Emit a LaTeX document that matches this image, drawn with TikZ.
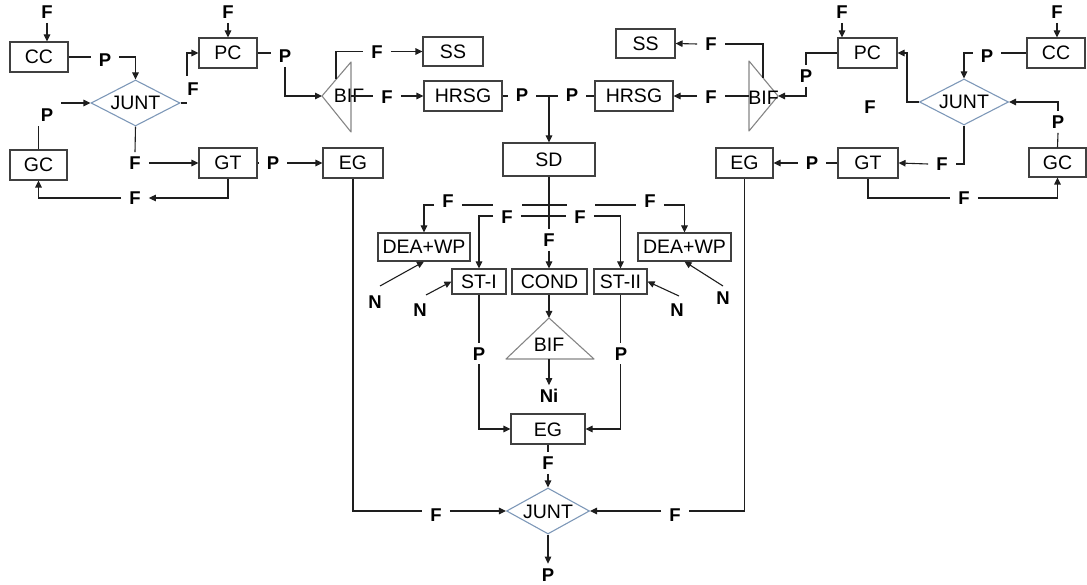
\documentclass[tikz,border=0pt]{standalone}
\usepackage{fontspec}
\setmainfont{Liberation Sans}
\usetikzlibrary{arrows.meta,shapes.geometric,calc}
\definecolor{boxc}{HTML}{404040}
\definecolor{linec}{HTML}{1E1E1E}
\definecolor{diac}{HTML}{7E98B8}
\definecolor{tric}{HTML}{858585}
\begin{document}
\begin{tikzpicture}[x=1pt,y=-1pt,
  box/.style={draw=boxc,line width=1.1pt,inner sep=0pt,text height=14pt,text depth=0pt,font=\fontsize{19.5}{20}\selectfont},
  junt/.style={shape=diamond,draw=diac,line width=1.1pt,inner sep=0pt,shape aspect=1.93,minimum width=89pt,minimum height=46pt,text height=14pt,text depth=0pt,font=\fontsize{19.5}{20}\selectfont},
  lbl/.style={inner xsep=8pt,inner ysep=4pt,text height=13.3pt,text depth=0pt,font=\fontsize{18.5}{19}\selectfont\bfseries},
  con/.style={draw=linec,line width=1.1pt},
  arr/.style={con,-{Triangle[length=7pt,width=6.5pt]}},
  tri/.style={draw=tric,line width=1.1pt,line join=round},
  txt/.style={inner sep=0pt,text height=14pt,text depth=0pt,font=\fontsize{19.5}{20}\selectfont}
]
\useasboundingbox (0,0) rectangle (1087,585);

% ---------- boxes ----------
\node[box,minimum width=58pt,minimum height=30pt] (CC1) at (39,57) {CC};
\node[box,minimum width=58pt,minimum height=30pt] (PC1) at (228,53) {PC};
\node[box,minimum width=57pt,minimum height=30pt] (GC1) at (38.5,165) {GC};
\node[box,minimum width=58pt,minimum height=30pt] (GT1) at (228,163) {GT};
\node[box,minimum width=60pt,minimum height=30pt] (EG1) at (353,163) {EG};
\node[box,minimum width=60pt,minimum height=29pt] (SS1) at (453,51.5) {SS};
\node[box,minimum width=78pt,minimum height=30pt] (HRSG1) at (463,96) {HRSG};
\node[box,minimum width=92pt,minimum height=33pt] (SD) at (549,159.5) {SD};
\node[box,minimum width=78pt,minimum height=30pt] (HRSG2) at (634,96) {HRSG};
\node[box,minimum width=59pt,minimum height=29pt] (SS2) at (645.5,43.5) {SS};
\node[box,minimum width=57pt,minimum height=30pt] (EG2) at (744.5,163) {EG};
\node[box,minimum width=60pt,minimum height=30pt] (GT2) at (868,163) {GT};
\node[box,minimum width=59pt,minimum height=30pt] (PC2) at (867.5,53) {PC};
\node[box,minimum width=58pt,minimum height=30pt] (CC2) at (1056,53) {CC};
\node[box,minimum width=57pt,minimum height=29pt] (GC2) at (1057.5,162.5) {GC};
\node[box,minimum width=92pt,minimum height=28pt] (DEA1) at (424,247) {DEA+WP};
\node[box,minimum width=93pt,minimum height=28pt] (DEA2) at (684.5,247) {DEA+WP};
\node[box,minimum width=54pt,minimum height=25pt] (ST1) at (479,281.5) {ST-I};
\node[box,minimum width=75pt,minimum height=25pt] (COND) at (549.5,281.5) {COND};
\node[box,minimum width=53pt,minimum height=25pt] (ST2) at (620.5,281.5) {ST-II};
\node[box,minimum width=74pt,minimum height=30pt] (EG3) at (548,429) {EG};

% ---------- junctions ----------
\node[junt] (JUNT1) at (135.5,103) {JUNT};
\node[junt] (JUNT2) at (964,102) {JUNT};
\node[junt,minimum width=83pt] (JUNT3) at (548,511) {JUNT};

% ---------- bifurcations ----------
\coordinate (b1t) at (351,62); \coordinate (b1a) at (322,96); \coordinate (b1b) at (351,132);
\coordinate (b2t) at (749,61); \coordinate (b2a) at (778,96); \coordinate (b2b) at (749,131);
\coordinate (b3a) at (549,318); \coordinate (b3l) at (506,359); \coordinate (b3r) at (594,359);
\draw[tri] (b1t) -- (b1a) -- (b1b) -- cycle;
\draw[tri] (b2t) -- (b2a) -- (b2b) -- cycle;
\draw[tri] (b3a) -- (b3l) -- (b3r) -- cycle;
\node[txt] (BIF1) at (349,96) {BIF};
\node[txt] (BIF2) at (763.5,98) {BIF};
\node[txt] (BIF3) at (549,344) {BIF};

% ---------- labels ----------
\node[lbl] (fCC1) at (47,12) {F};
\node[lbl] (pCC1) at (105,60) {P};
\node[lbl] (pGC1) at (47,115) {P};
\node[lbl] (fJ1) at (193,89) {F};
\node[lbl] (fPC1) at (228,12) {F};
\node[lbl] (pPC1) at (285,56) {P};
\node[lbl] (fSS1) at (377,51.5) {F};
\node[lbl] (fH1) at (387,97) {F};
\node[lbl] (pGT1) at (273,163) {P};
\node[lbl] (fJ1b) at (135,163) {F};
\node[lbl] (fGC1) at (135,198) {F};
\node[lbl] (fPC2) at (842,12) {F};
\node[lbl] (fCC2) at (1057,12) {F};
\node[lbl] (pCC2) at (987,56) {P};
\node[lbl] (fFloat) at (870,107) {F};
\node[lbl] (pGC2) at (1058,122) {P};
\node[lbl] (fGT2) at (942,164) {F};
\node[lbl] (fGC2) at (964,198) {F};
\node[lbl] (pPC2) at (806,76) {P};
\node[lbl] (fSS2) at (711,44) {F};
\node[lbl] (fH2) at (711,97) {F};
\node[lbl] (pGT2) at (812,163) {P};
\node[lbl] (pH1) at (522,95) {P};
\node[lbl] (pH2) at (572,95) {P};
\node[lbl] (fCOND) at (549,240) {F};
\node[lbl] (fD1) at (448,201) {F};
\node[lbl] (fD2) at (650,201) {F};
\node[lbl] (fS1) at (507,217) {F};
\node[lbl] (fS2) at (580,217) {F};
\node[lbl] (n1) at (375,302) {N};
\node[lbl] (n2) at (420,310) {N};
\node[lbl] (n3) at (677,310) {N};
\node[lbl] (n4) at (723,298) {N};
\node[lbl] (Ni) at (549,396) {Ni};
\node[lbl] (pS1) at (479,353.5) {P};
\node[lbl] (pS2) at (621,353.5) {P};
\node[lbl] (fJ3) at (548,463) {F};
\node[lbl] (fE1) at (436,515) {F};
\node[lbl] (fE2) at (675,515) {F};
\node[lbl] (pOut) at (548,574.5) {P};

% ---------- left cluster ----------
\draw[arr] (fCC1.south) -- (fCC1.south |- CC1.north);
\draw[con] (CC1.east) -- (CC1.east -| pCC1.west);
\draw[arr] (CC1.east -| pCC1.east) -| (JUNT1.north);
\draw[con] (GC1.north) -- (GC1.north |- pGC1.south);
\draw[arr] (JUNT1.west -| pGC1.east) -- (JUNT1.west);
\coordinate (j1a) at (187,103); \coordinate (j1b) at (187,76);
\draw[con] (JUNT1.east) -- (j1a);
\draw[arr] (j1b) |- (PC1.west);
\draw[arr] (fPC1.south) -- (PC1.north);
\draw[con] (PC1.east) -- (PC1.east -| pPC1.west);
\draw[arr] (pPC1.south) |- (b1a);
\coordinate (b1u) at (336,79);
\draw[con] (b1u) |- (fSS1.west);
\draw[arr] (fSS1.east) -- (SS1.west);
\coordinate (b1r) at (351,96);
\draw[con] (b1r) -- (b1r -| fH1.west);
\draw[arr] (b1r -| fH1.east) -- (HRSG1.west);
\draw[con] (GT1.east) -- (pGT1.west);
\draw[arr] (pGT1.east) -- (EG1.west);
\draw[con] (JUNT1.south) -- (fJ1b.north);
\draw[arr] (fJ1b.east) -- (GT1.west);
\draw[arr] (GT1.south) |- (fGC1.east);
\draw[arr] (fGC1.west) -| (GC1.south);

% ---------- right cluster ----------
\draw[arr] (fPC2.south) -- (fPC2.south |- PC2.north);
\draw[arr] (fCC2.south) -- (fCC2.south |- CC2.north);
\draw[con] (CC2.west) -- (CC2.west -| pCC2.east);
\draw[arr] (CC2.west -| pCC2.west) -| (JUNT2.north);
\draw[arr] (JUNT2.west) -- ++(-12,0) |- (PC2.east);
\draw[con] (GC2.north) -- (pGC2.south);
\draw[arr] (pGC2.north) |- (JUNT2.east);
\draw[con] (JUNT2.south) |- (fGT2.east);
\draw[arr] (fGT2.west) -- (GT2.east);
\draw[con] (GT2.south) |- (fGC2.west);
\draw[arr] (fGC2.east) -| (GC2.south);
\draw[con] (PC2.west) -| (pPC2.north);
\draw[arr] (pPC2.south) |- (b2a);
\coordinate (b2u) at (763,78);
\draw[con] (b2u) |- (fSS2.east);
\draw[arr] (fSS2.west) -- (SS2.east);
\coordinate (b2l) at (749,96);
\draw[con] (b2l) -- (b2l -| fH2.east);
\draw[arr] (b2l -| fH2.west) -- (HRSG2.east);
\draw[con] (GT2.west) -- (pGT2.east);
\draw[arr] (pGT2.west) -- (EG2.east);

% ---------- centre ----------
\draw[con] (HRSG1.east) -- (HRSG1.east -| pH1.west);
\draw[con] (HRSG1.east -| pH1.east) -- (HRSG1.east -| pH2.west);
\draw[con] (HRSG2.west -| pH2.east) -- (HRSG2.west);
\draw[arr] (SD.north |- HRSG1.east) -- (SD.north);
\draw[con] (SD.south) -- (fCOND.north);
\draw[arr] (fCOND.south) -- (fCOND.south |- COND.north);

\coordinate (up) at (549,205);
\coordinate (ug1) at (493,205); \coordinate (ug2) at (522,205);
\coordinate (ug3) at (567,205); \coordinate (ug4) at (595,205);
\draw[arr] (fD1.west |- up) -| (DEA1.north);
\draw[con] (fD1.east |- up) -- (ug1);
\draw[con] (ug2) -- (ug3);
\draw[con] (ug4) -- (fD2.west |- up);
\draw[arr] (fD2.east |- up) -| (DEA2.north);

\coordinate (lo) at (549,216);
\draw[arr] (fS1.west |- lo) -| (ST1.north);
\draw[con] (fS1.east |- lo) -- (fS2.west |- lo);
\draw[arr] (fS2.east |- lo) -| (ST2.north);

\coordinate (n1s) at (380,286); \coordinate (n2s) at (426,295);
\coordinate (n3s) at (679,296); \coordinate (n4s) at (723,286);
\draw[arr] (n1s) -- (DEA1.south);
\draw[arr] (n2s) -- (ST1.west);
\draw[arr] (n3s) -- (ST2.east);
\draw[arr] (n4s) -- (DEA2.south);

\draw[arr] (COND.south -| b3a) -- (b3a);
\coordinate (b3m) at (549,359);
\draw[arr] (b3m) -- (Ni.north);

\draw[con] (ST1.south) -- (ST1.south |- pS1.north);
\draw[arr] (ST1.south |- pS1.south) |- (EG3.west);
\draw[con] (ST2.south) -- (ST2.south |- pS2.north);
\draw[arr] (ST2.south |- pS2.south) |- (EG3.east);
\draw[con] (EG3.south) -- (fJ3.north);
\draw[arr] (fJ3.south) -- (JUNT3.north);
\draw[con] (EG1.south) |- (fE1.west |- JUNT3.west);
\draw[arr] (fE1.east |- JUNT3.west) -- (JUNT3.west);
\draw[con] (EG2.south) |- (fE2.east |- JUNT3.west);
\draw[arr] (fE2.west |- JUNT3.west) -- (JUNT3.east);
\draw[arr] (JUNT3.south) -- (pOut.north);
\end{tikzpicture}
\end{document}
